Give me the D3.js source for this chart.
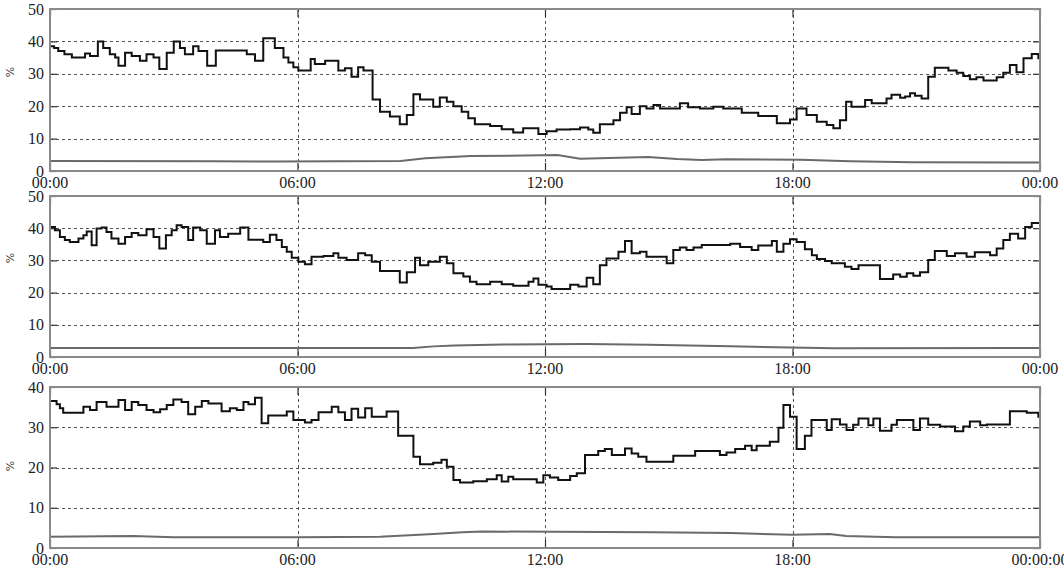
<!DOCTYPE html>
<html>
<head>
<meta charset="utf-8">
<script src="https://cdn.jsdelivr.net/npm/d3@7"></script>
<style>
  html, body { margin: 0; padding: 0; background: #fff; }
  svg { display: block; }
  .tick-label { font-family: "Liberation Serif", "DejaVu Serif", serif; font-size: 16px; fill: #222; }
  .unit-label { font-family: "DejaVu Sans", sans-serif; font-size: 11px; fill: #444; }
</style>
</head>
<body>
<svg id="chart" width="1064" height="577"></svg>
<script>
// time axis
var hourTicks = [0, 6, 12, 18, 24];
var hourLabels = ['00:00', '06:00', '12:00', '18:00', '00:00'];
var hourLabelsLast = ['00:00', '06:00', '12:00', '18:00', '00:00:00'];

// panel 1 (0..50 %)
var p1Hours = [0, 0.1, 0.2, 0.35, 0.53, 0.85, 0.97, 1.16, 1.29, 1.45, 1.58, 1.66, 1.82, 1.98, 2.18, 2.34, 2.51, 2.65, 2.83, 3.0,
  3.15, 3.27, 3.47, 3.6, 3.81, 4.02, 4.77, 4.97, 5.17, 5.45, 5.66, 5.78, 5.9, 6.02, 6.32, 6.42, 6.67, 6.99, 7.15, 7.31,
  7.47, 7.6, 7.82, 8.0, 8.24, 8.48, 8.65, 8.81, 8.97, 9.29, 9.45, 9.62, 9.78, 9.98, 10.14, 10.3, 10.67, 10.95, 11.23, 11.47,
  11.84, 12.04, 12.28, 12.61, 12.85, 13.05, 13.17, 13.33, 13.66, 13.82, 13.98, 14.1, 14.3, 14.46, 14.63, 14.79, 15.27, 15.47, 15.76, 16.08,
  16.32, 16.77, 17.17, 17.62, 17.94, 18.1, 18.34, 18.59, 18.83, 18.99, 19.15, 19.3, 19.43, 19.76, 19.92, 20.28, 20.4, 20.61, 20.73, 20.85,
  20.97, 21.13, 21.29, 21.45, 21.78, 21.98, 22.14, 22.3, 22.46, 22.63, 22.95, 23.11, 23.27, 23.43, 23.6, 23.8, 23.96];
var p1Load = [38.5, 38, 37, 36, 35, 36.3, 35.5, 40, 38, 36, 35, 32.5, 36.5, 35.5, 34, 36, 35, 31.5, 36.5, 40,
  38, 36, 38.5, 37, 32.5, 37.2, 36, 34, 41, 38, 35, 33.5, 32, 31, 34.6, 33, 34, 31, 31.7, 29.1,
  32, 31, 22.1, 18.3, 16.8, 14.4, 17.3, 23.7, 22.1, 19.8, 22.7, 21.4, 20, 18.3, 16.3, 14.4, 13.9, 12.9, 11.9, 13.2,
  11.4, 12.3, 12.8, 12.9, 13.4, 12.8, 11.8, 14.4, 15.7, 18, 19.7, 17.6, 20, 19.3, 20.4, 19.3, 20.9, 19.7, 19.3, 19.8,
  19.3, 18, 17, 14.7, 15.9, 19.3, 17.3, 15.2, 14.2, 13.2, 15.7, 21.4, 19.8, 21.9, 20.9, 22.4, 23.5, 22.6, 23, 24,
  23.2, 22.4, 29.1, 31.9, 31, 30.3, 29.3, 28.3, 28.9, 27.9, 28.9, 30.3, 32.7, 30.5, 34.8, 36.1, 34.8];
var p1BaseHours = [0, 4, 5.5, 8.5, 9.1, 10.2, 12.3, 12.85, 14.5, 15.2, 15.8, 16.4, 18.2, 19.4, 20.9, 24];
var p1Base = [3.1, 3.0, 2.9, 3.1, 3.9, 4.6, 4.9, 3.8, 4.3, 3.7, 3.4, 3.6, 3.5, 3.0, 2.7, 2.6];

// panel 2 (0..50 %)
var p2Hours = [0, 0.12, 0.24, 0.36, 0.48, 0.69, 0.81, 0.89, 1.01, 1.13, 1.25, 1.37, 1.49, 1.66, 1.82, 1.98, 2.14, 2.34, 2.51, 2.65,
  2.81, 2.95, 3.07, 3.19, 3.35, 3.47, 3.64, 3.8, 4.0, 4.12, 4.32, 4.61, 4.81, 5.17, 5.33, 5.49, 5.62, 5.74, 5.86, 6.02,
  6.18, 6.34, 6.63, 6.87, 6.99, 7.19, 7.47, 7.64, 7.8, 8.0, 8.48, 8.65, 8.85, 8.97, 9.17, 9.45, 9.62, 9.78, 10.02, 10.18,
  10.34, 10.67, 10.95, 11.23, 11.6, 11.72, 11.84, 12.04, 12.16, 12.61, 12.81, 13.01, 13.17, 13.33, 13.49, 13.78, 13.94, 14.1, 14.3, 14.46,
  14.95, 15.11, 15.27, 15.43, 15.6, 15.8, 16.49, 16.73, 17.01, 17.17, 17.5, 17.62, 17.78, 17.94, 18.1, 18.3, 18.47, 18.59, 18.79, 18.95,
  19.27, 19.43, 19.6, 20.12, 20.44, 20.61, 20.77, 20.93, 21.09, 21.29, 21.45, 21.74, 21.94, 22.22, 22.42, 22.79, 22.95, 23.11, 23.27, 23.47,
  23.64, 23.8];
var p2Load = [40.4, 39.4, 37.3, 36.3, 35.7, 36.8, 37.8, 39, 34.7, 39.9, 40.2, 38.8, 36.8, 35.2, 37.3, 38.5, 37.8, 39.7, 37.3, 33.7,
  37.8, 39.4, 40.9, 40.4, 36.3, 40.2, 39.4, 35.2, 39.4, 37.3, 38.3, 40.2, 36.4, 35.7, 38, 36.3, 34.2, 32.7, 30.8, 29.6,
  28.8, 31.1, 31.4, 32.2, 30.8, 30.1, 32.2, 31.6, 29.6, 26.7, 23.1, 26.3, 30.8, 28.5, 29.6, 31.1, 29.1, 26, 25, 23.4,
  22.6, 23.4, 22.6, 22.1, 23.4, 24.4, 22.4, 21.9, 21.1, 22.4, 21.9, 24.6, 22.6, 28.5, 30.6, 32.7, 36, 32.2, 32.7, 31.1,
  29.1, 33.2, 34, 33.2, 34, 34.8, 35.2, 34.2, 33.2, 34.6, 36, 32.7, 35.2, 36.6, 35.7, 33.5, 31.6, 30.4, 29.8, 29.1,
  28, 27.3, 28.5, 24.2, 25.6, 24.9, 26, 25.2, 26.3, 30.1, 32.9, 31.4, 32.2, 31.1, 32.5, 31.6, 33.7, 36.3, 38.3, 36.8,
  40.4, 41.6];
var p2BaseHours = [0, 8.8, 9.3, 9.8, 11.0, 13.0, 14.5, 16.5, 18.3, 19.0, 24];
var p2Base = [2.8, 2.8, 3.3, 3.6, 3.9, 4.0, 3.8, 3.3, 2.9, 2.7, 2.8];

// panel 3 (0..40 %)
var p3Hours = [0, 0.16, 0.24, 0.32, 0.81, 0.97, 1.13, 1.37, 1.66, 1.82, 1.98, 2.14, 2.34, 2.51, 2.67, 2.83, 2.99, 3.19, 3.35, 3.52,
  3.68, 3.84, 4.16, 4.36, 4.53, 4.69, 4.81, 4.97, 5.13, 5.29, 5.74, 5.9, 6.18, 6.34, 6.51, 6.83, 6.99, 7.15, 7.31, 7.47,
  7.64, 7.8, 8.16, 8.44, 8.81, 8.97, 9.29, 9.49, 9.62, 9.78, 9.94, 10.26, 10.59, 10.83, 10.95, 11.11, 11.23, 11.8, 11.96, 12.12,
  12.32, 12.61, 12.77, 12.97, 13.29, 13.45, 13.62, 13.94, 14.1, 14.26, 14.46, 15.11, 15.64, 16.24, 16.4, 16.61, 16.85, 17.01, 17.13, 17.45,
  17.66, 17.78, 17.94, 18.1, 18.3, 18.46, 18.83, 18.95, 19.15, 19.31, 19.47, 19.6, 19.84, 19.96, 20.12, 20.4, 20.53, 20.93, 21.09, 21.29,
  21.58, 21.94, 22.14, 22.3, 22.55, 22.71, 23.27, 23.68, 23.96];
var p3Load = [36.5, 35.7, 34.7, 33.6, 35.1, 34.3, 36.3, 35.1, 36.8, 34.3, 36.3, 35.5, 34.3, 33.7, 34.5, 35.5, 36.9, 36.3, 33.2, 35.1,
  36.5, 35.9, 34, 34.7, 34.3, 36.3, 35.7, 37.3, 31, 32.9, 33.9, 31.8, 31.2, 31.8, 33.7, 35.1, 33.7, 31.8, 34.6, 32.4,
  34.7, 32.6, 33.9, 27.9, 22.7, 20.8, 21.2, 21.9, 20.2, 16.9, 16.3, 16.6, 17.1, 18.1, 16.5, 17.7, 17.1, 16.3, 18.1, 17.5,
  16.9, 17.9, 18.6, 23.1, 24.1, 24.6, 23.1, 24.7, 23.5, 22.7, 21.4, 22.9, 24.1, 23.1, 23.7, 24.6, 25.4, 24.3, 25.4, 26.4,
  29.9, 35.5, 32.6, 24.6, 27.9, 31.8, 29.3, 32, 30.7, 29.3, 30.6, 32.2, 30.5, 32.2, 29.1, 30.6, 31.8, 29.3, 32.2, 30.6,
  30.2, 29, 30.2, 31.4, 30.5, 30.7, 34, 33.6, 32.6];
var p3BaseHours = [0, 2.0, 3.0, 6.0, 8.0, 9.3, 10.0, 10.5, 14.6, 16.5, 18.0, 18.9, 19.3, 20.5, 24];
var p3Base = [2.8, 3.0, 2.7, 2.7, 2.8, 3.5, 3.9, 4.1, 3.9, 3.7, 3.3, 3.5, 3.0, 2.7, 2.7];

var yTicks50 = [0, 10, 20, 30, 40, 50];
var yTicks40 = [0, 10, 20, 30, 40];

var panels = [
  { top: 9,   bottom: 171, yMax: 50, yTicks: yTicks50, hours: p1Hours, load: p1Load, baseHours: p1BaseHours, base: p1Base, xLabels: hourLabels, unitY: 72 },
  { top: 196, bottom: 357, yMax: 50, yTicks: yTicks50, hours: p2Hours, load: p2Load, baseHours: p2BaseHours, base: p2Base, xLabels: hourLabels, unitY: 258 },
  { top: 387, bottom: 548, yMax: 40, yTicks: yTicks40, hours: p3Hours, load: p3Load, baseHours: p3BaseHours, base: p3Base, xLabels: hourLabelsLast, unitY: 466 }
];

var left = 50, right = 1040;
var svg = d3.select('#chart');

var x = d3.scaleLinear().domain([0, 24]).range([left, right]);

panels.forEach(function(p) {
  var y = d3.scaleLinear().domain([0, p.yMax]).range([p.bottom, p.top]);
  var g = svg.append('g');

  // grid (dotted)
  g.append('g').selectAll('line')
    .data(p.yTicks.filter(function(d) { return d > 0 && d < p.yMax; }))
    .enter().append('line')
      .attr('x1', left).attr('x2', right)
      .attr('y1', function(d) { return Math.round(y(d)) + 0.5; })
      .attr('y2', function(d) { return Math.round(y(d)) + 0.5; })
      .attr('stroke', '#555')
      .attr('stroke-width', 1)
      .attr('stroke-dasharray', '3,3');

  g.append('g').selectAll('line')
    .data(hourTicks.slice(1, -1))
    .enter().append('line')
      .attr('x1', function(d) { return Math.round(x(d)) + 0.5; })
      .attr('x2', function(d) { return Math.round(x(d)) + 0.5; })
      .attr('y1', p.top).attr('y2', p.bottom)
      .attr('stroke', '#555')
      .attr('stroke-width', 1)
      .attr('stroke-dasharray', '3,3');

  // inner tick marks
  var yAxisL = d3.axisRight(y).tickValues(p.yTicks).tickSize(7).tickFormat('');
  var yAxisR = d3.axisLeft(y).tickValues(p.yTicks).tickSize(7).tickFormat('');
  var xAxisB = d3.axisTop(x).tickValues(hourTicks).tickSize(8).tickFormat('');
  var xAxisT = d3.axisBottom(x).tickValues(hourTicks).tickSize(8).tickFormat('');
  [
    [yAxisL, 'translate(' + left + ',0)'],
    [yAxisR, 'translate(' + right + ',0)'],
    [xAxisB, 'translate(0,' + p.bottom + ')'],
    [xAxisT, 'translate(0,' + p.top + ')']
  ].forEach(function(a) {
    var ax = g.append('g').attr('transform', a[1]).call(a[0]);
    ax.select('.domain').remove();
    ax.selectAll('line').attr('stroke', '#333').attr('stroke-width', 1.2);
  });

  // tick labels
  g.append('g').selectAll('text')
    .data(p.yTicks)
    .enter().append('text')
      .attr('class', 'tick-label')
      .attr('x', left - 6)
      .attr('y', function(d) { return y(d); })
      .attr('dy', '0.35em')
      .attr('text-anchor', 'end')
      .text(function(d) { return d; });

  g.append('g').selectAll('text')
    .data(hourTicks)
    .enter().append('text')
      .attr('class', 'tick-label')
      .attr('x', function(d) { return x(d); })
      .attr('y', p.bottom + 17)
      .attr('text-anchor', 'middle')
      .text(function(d, i) { return p.xLabels[i]; });

  g.append('text')
    .attr('class', 'unit-label')
    .attr('transform', 'translate(14,' + p.unitY + ') rotate(-90)')
    .attr('text-anchor', 'middle')
    .text('%');

  // series
  var loadData = p.hours.map(function(h, i) { return [h, p.load[i]]; });
  loadData.push([24, p.load[p.load.length - 1]]);
  var baseData = p.baseHours.map(function(h, i) { return [h, p.base[i]]; });

  var line = d3.line()
    .x(function(d) { return x(d[0]); })
    .y(function(d) { return y(d[1]); });

  g.append('path')
    .datum(baseData)
    .attr('fill', 'none')
    .attr('stroke', '#6a6a6a')
    .attr('stroke-width', 2)
    .attr('d', line.curve(d3.curveLinear));

  g.append('path')
    .datum(loadData)
    .attr('fill', 'none')
    .attr('stroke', '#111')
    .attr('stroke-width', 2)
    .attr('d', line.curve(d3.curveStepAfter));

  // frame
  g.append('rect')
    .attr('x', left).attr('y', p.top)
    .attr('width', right - left).attr('height', p.bottom - p.top)
    .attr('fill', 'none')
    .attr('stroke', '#8a8a8a')
    .attr('stroke-width', 2);
});
</script>
</body>
</html>
